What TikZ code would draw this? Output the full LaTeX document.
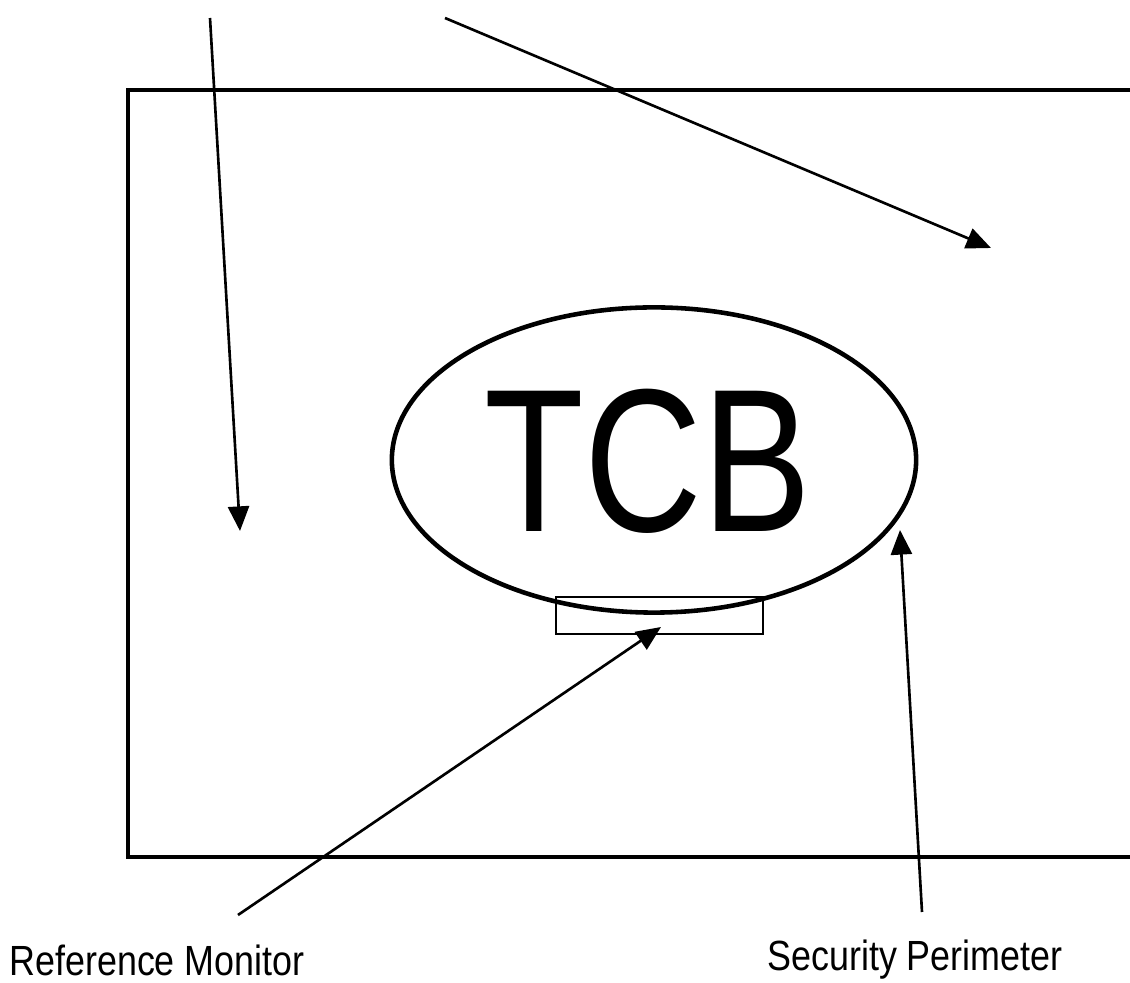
\documentclass[tikz,border=0pt]{standalone}
\usepackage{fontspec}
\setmainfont{Liberation Sans}
\usepackage{tikz}
\usetikzlibrary{shapes,arrows.meta,positioning}
\tikzstyle{label} = [inner sep=0pt, font=\fontsize{12}{14}\selectfont]
\tikzstyle{arrow} = [line width=0.75pt,-{Triangle[length=7pt,width=6pt]}]
\newcommand{\narrow}[1]{\scalebox{0.8}[1]{#1}}
\newcommand{\lessnarrow}[1]{\scalebox{0.85}[1]{#1}}

\begin{document}
\begin{tikzpicture}[x=0.01cm,y=-0.01cm]
    \useasboundingbox (0,0) rectangle (1130,983);
    \begin{scope}
    \clip (0,0) rectangle (1130,983);
    % Perimeter box
    \draw [line width=1.1pt] (1140,90) -- (128,90) -- (128,857) -- (1140,857);
    % TCB
    \node [ellipse, draw, line width=1.3pt, inner sep=0pt,
           minimum width=5.24cm, minimum height=3.05cm] (tcb) at (654,460) {};
    \node [inner sep=0pt, font=\fontsize{58}{60}\selectfont] (tcbtext) at (648,461) {\narrow{TCB}};
    \node [draw, line width=0.6pt, minimum width=2.07cm, minimum height=0.37cm, inner sep=0pt] (refmon) at (659.5,615.5) {};
    \end{scope}

    % Labels
    \node [label] (rmlabel) at (157,960) {\lessnarrow{Reference Monitor}};
    \node [label] (splabel) at (915,960) {\lessnarrow{Security Perimeter}};

    % Pointers
    \coordinate (topa) at (210,18);
    \coordinate (topb) at (445,18);
    \coordinate (ina) at (240,531);
    \coordinate (inb) at (991,248);
    \coordinate (rmfoot) at (238,915);
    \coordinate (spfoot) at (922,912);
    \coordinate (rmtip) at (661,627);
    \coordinate (sptip) at (900,530);
    \draw [arrow] (topa) -- (ina);
    \draw [arrow] (topb) -- (inb);
    \draw [arrow] (rmfoot) -- (rmtip);
    \draw [arrow] (spfoot) -- (sptip);
\end{tikzpicture}
\end{document}
